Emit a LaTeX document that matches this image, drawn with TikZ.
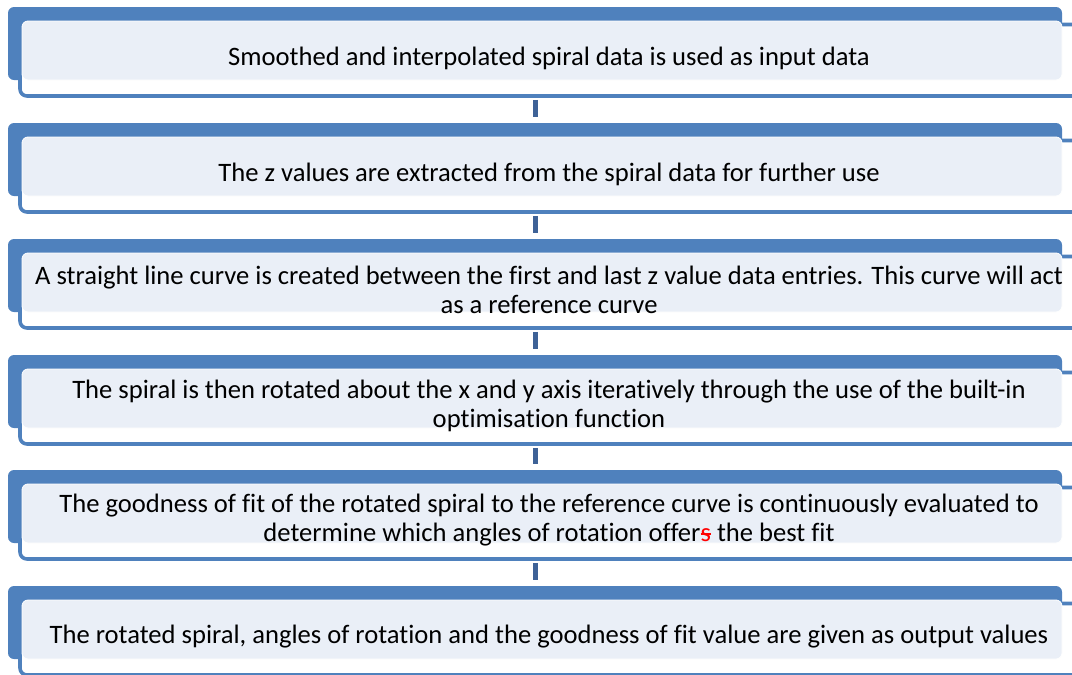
\documentclass[tikz,border=0pt]{standalone}
\usepackage{fontspec}
\setmainfont[Ligatures=NoCommon]{Carlito}
\usetikzlibrary{positioning}
\definecolor{StepBlue}{HTML}{4F81BD}
\definecolor{PanelFill}{HTML}{EAEFF7}
\definecolor{LinkBlue}{HTML}{3E6297}
\newsavebox\strikebox
\newcommand\strikered[1]{\sbox\strikebox{#1}\textcolor{red}{\rlap{\rule[0.24em]{\wd\strikebox}{0.09em}}#1}}

\begin{document}
\begin{tikzpicture}[x=1pt,y=-1pt,
  backbar/.style={fill=StepBlue,rounded corners=6pt,minimum width=1054pt,minimum height=73pt,inner sep=0pt},
  frame/.style={draw=StepBlue,line width=3.6pt,fill=white,rounded corners=7pt,minimum width=1065pt,minimum height=71.5pt,inner sep=0pt},
  panel/.style={fill=PanelFill,draw=white,line width=0.8pt,rounded corners=6pt,minimum width=1040pt,minimum height=59pt,inner sep=0pt},
  steptext/.style={font=\fontsize{26.6}{29}\selectfont,align=center,inner sep=0pt},
  link/.style={draw=LinkBlue,line width=5pt,shorten <=2pt,shorten >=6pt}
]
\useasboundingbox (0,0) rectangle (1072,675);
\clip (0,0) rectangle (1072,675);

% block 1
\node[backbar] (back1) at (535,43.5) {};
\node[frame] (frame1) at (552.5,60.25) {};
\node[panel] (panel1) at (542,50.5) {};
\node[steptext] (step1) at (549,58) {Smoothed and interpolated spiral data is used as input data};

% block 2
\node[backbar] (back2) at (535,159.5) {};
\node[frame] (frame2) at (552.5,176.25) {};
\node[panel] (panel2) at (542,166.5) {};
\node[steptext] (step2) at (549,174) {The z values are extracted from the spiral data for further use};

% block 3
\node[backbar] (back3) at (535,275.5) {};
\node[frame] (frame3) at (552.5,292.25) {};
\node[panel] (panel3) at (542,282.5) {};
\node[steptext] (step3) at (549,289.5) {A straight line curve is created between the first and last z value data entries. This curve will act\\as a reference curve};

% block 4
\node[backbar] (back4) at (535,391.5) {};
\node[frame] (frame4) at (552.5,408.25) {};
\node[panel] (panel4) at (542,398.5) {};
\node[steptext] (step4) at (549,405.5) {The spiral is then rotated about the x and y axis iteratively through the use of the built-in\\optimisation function};

% block 5
\node[backbar] (back5) at (535,506.5) {};
\node[frame] (frame5) at (552.5,523.25) {};
\node[panel] (panel5) at (542,513.5) {};
\node[steptext] (step5) at (549,520) {The goodness of fit of the rotated spiral to the reference curve is continuously evaluated to\\determine which angles of rotation offer\strikered{s} the best fit};

% block 6
\node[backbar] (back6) at (535,622.5) {};
\node[frame] (frame6) at (552.5,639.25) {};
\node[panel] (panel6) at (542,629.5) {};
\node[steptext] (step6) at (549,637) {The rotated spiral, angles of rotation and the goodness of fit value are given as output values};

% links
\draw[link] (frame1.south -| back1) -- (back2.north);
\draw[link] (frame2.south -| back2) -- (back3.north);
\draw[link] (frame3.south -| back3) -- (back4.north);
\draw[link] (frame4.south -| back4) -- (back5.north);
\draw[link] (frame5.south -| back5) -- (back6.north);
\end{tikzpicture}
\end{document}
